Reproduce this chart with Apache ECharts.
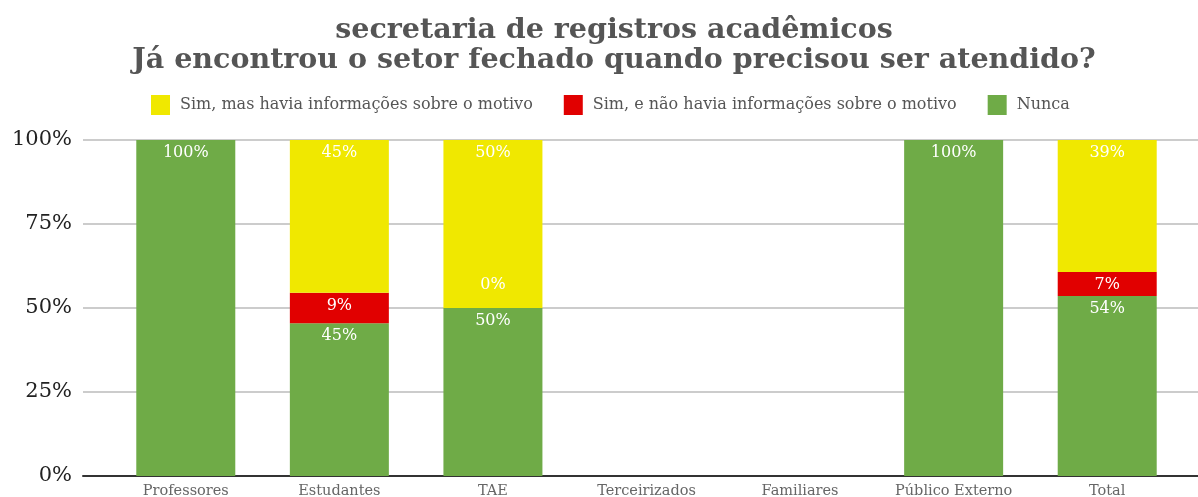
<!DOCTYPE html>
<html>
<head lang="pt">
    <meta charset="UTF-8">
    <title>secretaria de registros acadêmicos</title>
    <script src="https://cdn.jsdelivr.net/npm/echarts@6/dist/echarts.min.js"></script>
</head>
<style type="text/css">
    html, body { margin: 0; padding: 0; background: #fff; }
    #main { width: 1198px; height: 497px; }
</style>
<body>
<div id="main"></div>
<script type="text/javascript">
    // dados (percentuais)
    var categorias = ['Professores', 'Estudantes', 'TAE', 'Terceirizados', 'Familiares', 'Público Externo', 'Total'];
    var simComInfo = [null, 45.45, 50, null, null, null, 39.29];
    var simSemInfo = [null, 9.09, 0, null, null, null, 7.14];
    var nunca = [100, 45.45, 50, null, null, 100, 53.57];
    var ticksY = [0, 25, 50, 75, 100];

    var fonte = 'DejaVu Serif';
    var nomes = ['Sim, mas havia informações sobre o motivo', 'Sim, e não havia informações sobre o motivo', 'Nunca'];

    function rotulo(p) {
        if (p.value === null || p.value === undefined) return '';
        return Math.round(p.value) + '%';
    }

    var labelBarra = {
        show: true,
        position: 'insideTop',
        distance: 5,
        color: '#fff',
        fontFamily: fonte,
        fontSize: 16,
        formatter: rotulo
    };

    // o 0% do TAE fica acima da barra vazia
    var dadosVermelho = simSemInfo.map(function (v, i) {
        if (v === 0) {
            return { value: v, label: { position: 'top', distance: 15 } };
        }
        return v;
    });

    var myChart = echarts.init(document.getElementById('main'));
    var option = {
        animation: false,
        title: {
            text: 'secretaria de registros acadêmicos\nJá encontrou o setor fechado quando precisou ser atendido?',
            left: 609,
            textAlign: 'center',
            top: 11,
            textStyle: {
                fontFamily: fonte,
                fontWeight: 'bold',
                fontSize: 28.5,
                lineHeight: 30,
                color: '#555'
            }
        },
        legend: {
            left: 146,
            top: 90,
            itemWidth: 19,
            itemHeight: 20,
            itemGap: 31,
            icon: 'rect',
            data: nomes,
            textStyle: {
                fontFamily: fonte,
                fontSize: 16,
                color: '#555',
                padding: [0, 0, 0, 5]
            }
        },
        grid: [
            { left: 83, right: 0, top: 140, bottom: 21, outerBoundsMode: 'none' },
            { left: 109, right: 14, top: 140, bottom: 21, outerBoundsMode: 'none' }
        ],
        xAxis: [
            {
                gridIndex: 0,
                type: 'value',
                min: 0,
                max: 1,
                axisLine: { show: true, lineStyle: { color: '#333', width: 2 } },
                axisTick: { show: false },
                axisLabel: { show: false },
                splitLine: { show: false }
            },
            {
                gridIndex: 1,
                type: 'category',
                data: categorias,
                axisLine: { show: false },
                axisTick: { show: false },
                axisLabel: {
                    margin: 8,
                    fontFamily: fonte,
                    fontSize: 14.5,
                    color: '#666',
                    interval: 0
                }
            }
        ],
        yAxis: [
            {
                gridIndex: 0,
                type: 'value',
                min: ticksY[0],
                max: ticksY[ticksY.length - 1],
                interval: 25,
                axisLine: { show: false },
                axisTick: { show: false },
                axisLabel: {
                    margin: 11,
                    fontFamily: fonte,
                    fontSize: 21,
                    color: '#222',
                    formatter: '{value}%'
                },
                splitLine: { lineStyle: { color: '#ccc', width: 2 } }
            },
            {
                gridIndex: 1,
                type: 'value',
                min: 0,
                max: 100,
                show: false,
                splitLine: { show: false }
            }
        ],
        series: [
            {
                name: nomes[2],
                type: 'bar',
                stack: 'total',
                xAxisIndex: 1,
                yAxisIndex: 1,
                barWidth: 99,
                itemStyle: { color: '#6fab47' },
                label: labelBarra,
                data: nunca
            },
            {
                name: nomes[1],
                type: 'bar',
                stack: 'total',
                xAxisIndex: 1,
                yAxisIndex: 1,
                barWidth: 99,
                itemStyle: { color: '#e10000' },
                label: labelBarra,
                data: dadosVermelho
            },
            {
                name: nomes[0],
                type: 'bar',
                stack: 'total',
                xAxisIndex: 1,
                yAxisIndex: 1,
                barWidth: 99,
                itemStyle: { color: '#f0e800' },
                label: labelBarra,
                data: simComInfo
            }
        ]
    };
    myChart.setOption(option);
</script>
</body>
</html>
